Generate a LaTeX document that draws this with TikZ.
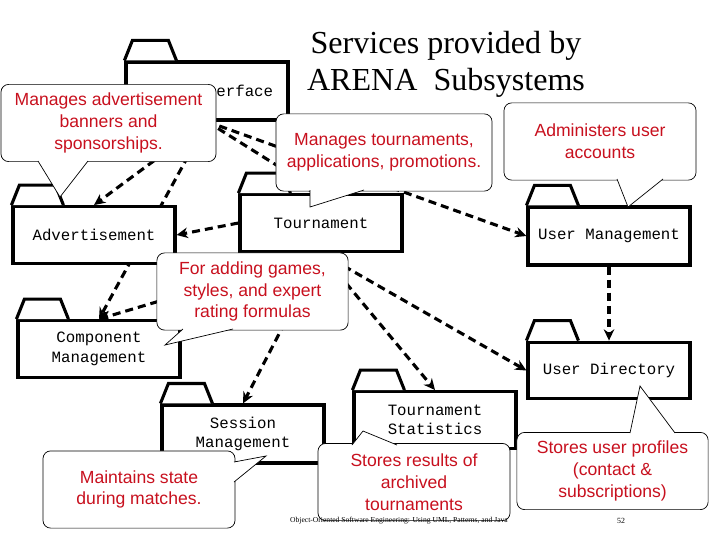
\documentclass[tikz,border=0pt]{standalone}
\usepackage{fontspec}
\setmainfont{Liberation Serif}
\setsansfont{Liberation Sans}
\setmonofont{Liberation Mono}
\usepackage{tikz}
\usetikzlibrary{positioning,arrows.meta,backgrounds}
\usepackage{xcolor}
\definecolor{notered}{RGB}{200,16,30}

% folder tab on top of a package box
\newcommand{\pkgtab}[1]{\draw[pkgline] (#1.north west) -- ++(8,-20) -- ++(36,0) -- ++(8,20);}
% pointer of a note, open towards the note
\newcommand{\notetip}[3]{\filldraw[draw=black, fill=white, line width=0.5pt] #1 -- #2 -- #3;}

\begin{document}
\begin{tikzpicture}[
    x=0.025cm, y=-0.025cm,
    >={Stealth[length=8pt,width=7.5pt]},
    pkg/.style={draw, line width=2.2pt, fill=white, minimum width=4.05cm, minimum height=1.42cm, align=center, font=\ttfamily\fontsize{11.2}{13.8}\selectfont},
    pkgline/.style={line width=2.2pt, fill=white},
    note/.style={draw, line width=0.5pt, fill=white, rounded corners=5.5pt, minimum width=4.8cm, minimum height=1.93cm, align=center, text=notered, font=\sffamily\fontsize{12.5}{15.5}\selectfont},
    dep/.style={->, line width=2.2pt, dash pattern=on 5.7pt off 3.6pt},
  ]
    \useasboundingbox (0,0) rectangle (720,540);

    \node[font=\fontsize{22.8}{26.5}\selectfont, align=center] (title) at (446,64) {Services provided by\\ARENA\ \ Subsystems};

    \node[pkg, minimum height=1.45cm] (iface) at (207,91) {User Interface};
    \node[pkg] (adv) at (94,235) {Advertisement};
    \node[pkg] (tour) at (321,223) {Tournament};
    \node[pkg, minimum height=1.45cm] (umgmt) at (609,236) {User Management};
    \node[pkg, below=1.85cm of umgmt] (udir) {User Directory};
    \node[pkg] (comp) at (99,349) {Component\\Management};
    \node[pkg, minimum height=1.45cm] (sess) at (243,434) {Session\\Management};
    \node[pkg] (tstat) at (435,420) {Tournament\\Statistics};
    \foreach \p in {iface,adv,tour,umgmt,udir,comp,sess,tstat} {\pkgtab{\p}}

    \begin{scope}[on background layer]
      \draw[dep] (iface.south) -- (adv.north);
      \draw[dep] (iface.south) -- (comp.north);
      \draw[dep] (iface.south) -- (tour.north);
      \draw[dep] (iface.south) -- (umgmt.west);
      \draw[dep] (tour.west) -- (adv.east);
      \draw[dep] (tour.south) -- (comp.north);
      \draw[dep] (tour.south) -- (sess.north);
      \draw[dep] (tour.south) -- (tstat.north);
      \draw[dep] (tour.south) -- (udir.west);
      \draw[dep] (umgmt.south) -- (udir.north);
    \end{scope}

    % notes
    \node[note, minimum width=5.375cm] (advnote) at (108.5,123) {Manages advertisement\\banners and\\sponsorships.};
    \notetip{(38,161)}{(60,197)}{(88,161)}
    \node[note, minimum width=5.4cm] (tournote) at (384,152.5) {Manages tournaments,\\applications, promotions.};
    \notetip{(310,190)}{(310,207)}{(364,190)}
    \node[note] (umnote) at (600,141.5) {Administers user\\accounts};
    \notetip{(617,179)}{(628,207)}{(663,179)}
    \node[note, minimum width=4.78cm] (compnote) at (252.5,291.5) {For adding games,\\styles, and expert\\rating formulas};
    \notetip{(183,329)}{(165,345)}{(233,329)}
    \node[note] (sessnote) at (139,489.5) {Maintains state\\during matches.};
    \notetip{(234,462)}{(266,456)}{(234,482)}
    \node[note] (statnote) at (414,482) {Stores results of\\archived\\tournaments};
    \notetip{(352,445)}{(363,431)}{(397,445)}
    \node[note, minimum width=4.78cm] (dirnote) at (612.5,471) {Stores user profiles\\(contact \&\\subscriptions)};
    \notetip{(630,433)}{(640,386)}{(675,433)}

    \node[font=\fontsize{5.4}{6}\selectfont] (footer) at (399,521) {Object-Oriented Software Engineering: Using UML, Patterns, and Java};
    \node[font=\fontsize{5.6}{6}\selectfont] (page) at (621,521) {52};
  \end{tikzpicture}
\end{document}
